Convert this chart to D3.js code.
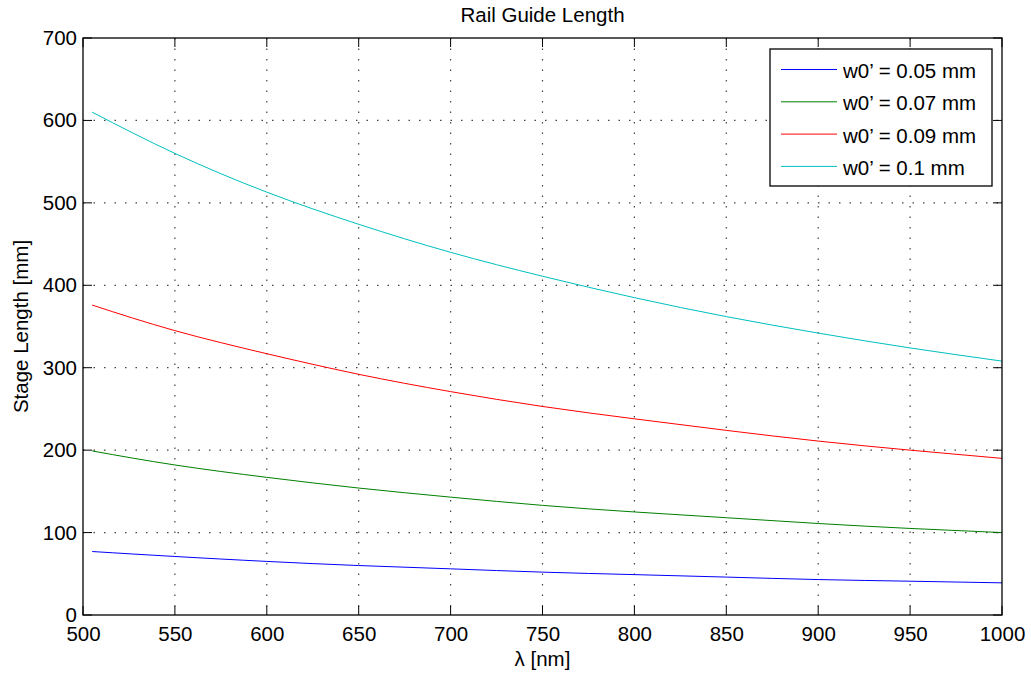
<!DOCTYPE html>
<html>
<head>
<meta charset="utf-8">
<script src="https://cdn.jsdelivr.net/npm/d3@7"></script>
<style>
  html, body { margin: 0; padding: 0; background: #fff; }
  svg { display: block; font-family: "Liberation Sans", Arial, Helvetica, sans-serif; }
</style>
</head>
<body>
<svg id="chart" width="1031" height="677"></svg>
<script>
// Wavelength samples [nm]
const wavelengths = [505, 550, 600, 650, 700, 750, 800, 850, 900, 950, 1000];

// Stage length [mm] for each beam waist
const len005 = [77, 71, 65, 60, 56, 52, 49, 46, 43, 41, 39];
const len007 = [199, 182, 167, 154, 143, 133, 125, 118, 111, 105, 100];
const len009 = [376, 345, 317, 292, 271, 253, 238, 224, 211, 200, 190];
const len010 = [610, 560, 513, 474, 440, 411, 385, 362, 342, 324, 308];

const seriesNames = ["w0\u2019 = 0.05 mm", "w0\u2019 = 0.07 mm", "w0\u2019 = 0.09 mm", "w0\u2019 = 0.1 mm"];
const seriesColors = ["#0000ff", "#008000", "#ff0000", "#00bfbf"];
const seriesValues = [len005, len007, len009, len010];

const xTicks = [500, 550, 600, 650, 700, 750, 800, 850, 900, 950, 1000];
const yTicks = [0, 100, 200, 300, 400, 500, 600, 700];

const FONT = 20.5;
const svg = d3.select("#chart");
const m = { left: 83, top: 38, right: 1002, bottom: 615 };

const x = d3.scaleLinear().domain([500, 1000]).range([m.left, m.right]);
const y = d3.scaleLinear().domain([0, 700]).range([m.bottom, m.top]);

// Dotted grid
const grid = svg.append("g");
grid.selectAll("line.gx").data(xTicks.slice(1, -1)).enter().append("line")
  .attr("x1", d => x(d)).attr("x2", d => x(d))
  .attr("y1", m.top).attr("y2", m.bottom)
  .attr("stroke", "#444").attr("stroke-width", 1.2).attr("stroke-dasharray", "1.5,9");
grid.selectAll("line.gy").data(yTicks.slice(1, -1)).enter().append("line")
  .attr("y1", d => y(d)).attr("y2", d => y(d))
  .attr("x1", m.left).attr("x2", m.right)
  .attr("stroke", "#444").attr("stroke-width", 1.2).attr("stroke-dasharray", "1.5,9");

// Inward ticks on all four sides
const tickLen = 9;
const ticks = svg.append("g").attr("stroke", "#000").attr("stroke-width", 1);
xTicks.forEach(t => {
  ticks.append("line").attr("x1", x(t)).attr("x2", x(t)).attr("y1", m.bottom).attr("y2", m.bottom - tickLen);
  ticks.append("line").attr("x1", x(t)).attr("x2", x(t)).attr("y1", m.top).attr("y2", m.top + tickLen);
});
yTicks.forEach(t => {
  ticks.append("line").attr("y1", y(t)).attr("y2", y(t)).attr("x1", m.left).attr("x2", m.left + tickLen);
  ticks.append("line").attr("y1", y(t)).attr("y2", y(t)).attr("x1", m.right).attr("x2", m.right - tickLen);
});

// Axes (labels only, ticks drawn above)
const xAxis = svg.append("g").attr("transform", `translate(0,${m.bottom})`)
  .call(d3.axisBottom(x).tickValues(xTicks).tickSize(0).tickPadding(11).tickFormat(d3.format("d")));
xAxis.select(".domain").remove();
xAxis.selectAll("text").attr("font-size", FONT).attr("fill", "#000").attr("font-family", "Liberation Sans, Arial, sans-serif");

const yAxis = svg.append("g").attr("transform", `translate(${m.left},0)`)
  .call(d3.axisLeft(y).tickValues(yTicks).tickSize(0).tickPadding(6).tickFormat(d3.format("d")));
yAxis.select(".domain").remove();
yAxis.selectAll("text").attr("font-size", FONT).attr("fill", "#000").attr("font-family", "Liberation Sans, Arial, sans-serif");

// Series curves
const line = d3.line().x((d, i) => x(wavelengths[i])).y(d => y(d)).curve(d3.curveNatural);
seriesValues.forEach((vals, i) => {
  svg.append("path").datum(vals)
    .attr("d", line)
    .attr("fill", "none")
    .attr("stroke", seriesColors[i])
    .attr("stroke-width", 1);
});

// Plot frame
svg.append("rect")
  .attr("x", m.left).attr("y", m.top)
  .attr("width", m.right - m.left).attr("height", m.bottom - m.top)
  .attr("fill", "none").attr("stroke", "#000").attr("stroke-width", 1.3);

// Title and axis labels
svg.append("text").attr("x", (m.left + m.right) / 2).attr("y", 22)
  .attr("text-anchor", "middle").attr("font-size", FONT).text("Rail Guide Length");
svg.append("text").attr("x", (m.left + m.right) / 2).attr("y", 666)
  .attr("text-anchor", "middle").attr("font-size", FONT).text("\u03bb [nm]");
svg.append("text")
  .attr("transform", `translate(28,${(m.top + m.bottom) / 2}) rotate(-90)`)
  .attr("text-anchor", "middle").attr("font-size", FONT).text("Stage Length [mm]");

// Legend
const lg = svg.append("g");
lg.append("rect").attr("x", 770).attr("y", 49).attr("width", 222).attr("height", 137)
  .attr("fill", "#fff").attr("stroke", "#000").attr("stroke-width", 1.3);
seriesNames.forEach((name, i) => {
  const ly = 69.5 + i * 32.3;
  lg.append("line").attr("x1", 781).attr("x2", 837).attr("y1", ly).attr("y2", ly)
    .attr("stroke", seriesColors[i]).attr("stroke-width", 1);
  lg.append("text").attr("x", 843).attr("y", ly + 8.5).attr("font-size", FONT).text(name);
});
</script>
</body>
</html>
